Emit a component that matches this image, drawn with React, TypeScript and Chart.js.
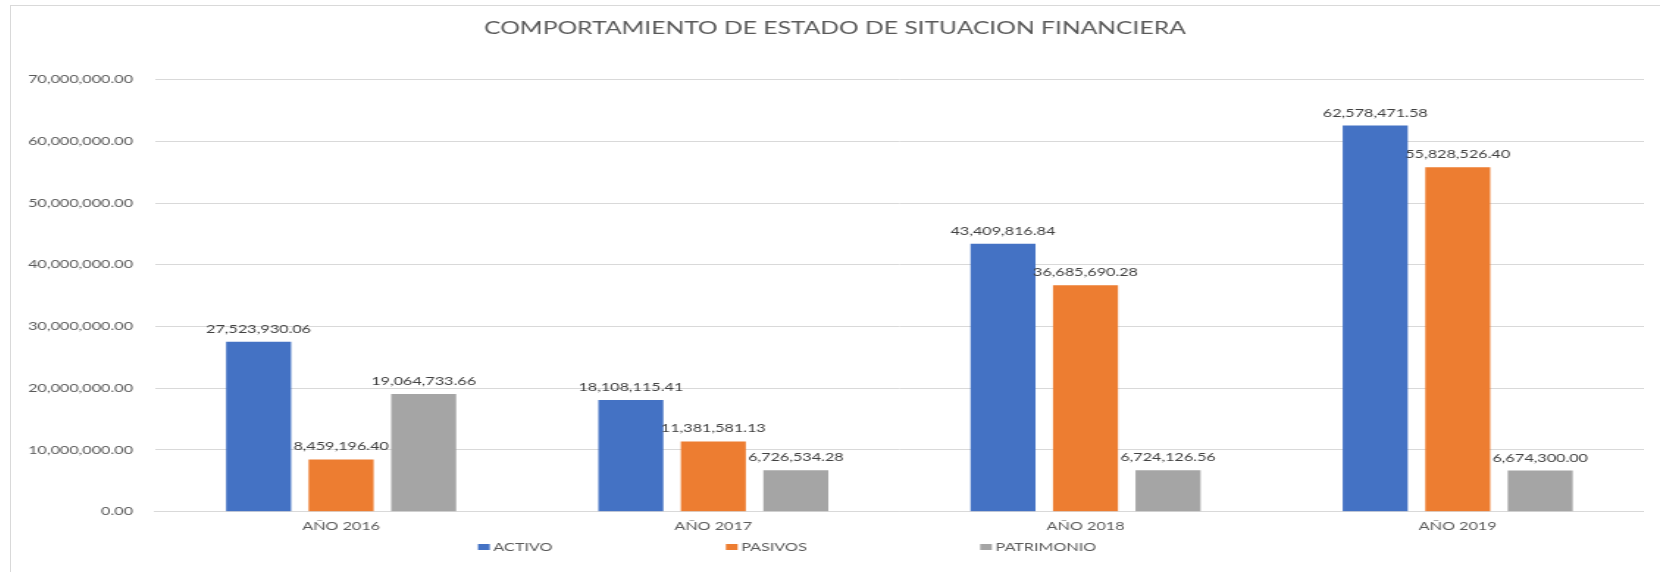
import React, { useEffect, useRef } from "react";
import { Chart, registerables } from "chart.js";

Chart.register(...registerables);

const chartTitle = "COMPORTAMIENTO DE ESTADO DE SITUACION FINANCIERA";
const categories = ["AÑO 2016", "AÑO 2017", "AÑO 2018", "AÑO 2019"];
const seriesNames = ["ACTIVO", "PASIVOS", "PATRIMONIO"];
const seriesColors = ["#4472C4", "#ED7D31", "#A5A5A5"];
const activo = [27523930.06, 18108115.41, 43409816.84, 62578471.58];
const pasivos = [8459196.4, 11381581.13, 36685690.28, 55828526.4];
const patrimonio = [19064733.66, 6726534.28, 6724126.56, 6674300.0];
const yTickValues = [0, 10000000, 20000000, 30000000, 40000000, 50000000, 60000000, 70000000];

const FONT = "Lato";
const STRETCH = 1.4694;
const CANVAS_LEFT = 26;
const CW = 1101;
const CH = 572;

const fmt = (v: number) =>
  v.toLocaleString("en-US", { minimumFractionDigits: 2, maximumFractionDigits: 2 });

const dataLabelPlugin = {
  id: "dataLabels",
  afterDatasetsDraw(chart: any) {
    const ctx = chart.ctx;
    ctx.save();
    ctx.font = `11px ${FONT}`;
    ctx.fillStyle = "#404040";
    ctx.textAlign = "center";
    ctx.textBaseline = "alphabetic";
    chart.data.datasets.forEach((ds: any, i: number) => {
      const meta = chart.getDatasetMeta(i);
      meta.data.forEach((bar: any, j: number) => {
        ctx.fillText(fmt(ds.data[j]), bar.x, bar.y - 9);
      });
    });
    ctx.restore();
  },
};

const excelLegendPlugin = {
  id: "excelLegend",
  afterDraw(chart: any, _args: any, opts: any) {
    const ctx = chart.ctx;
    ctx.save();
    ctx.font = `11px ${FONT}`;
    ctx.textBaseline = "middle";
    ctx.textAlign = "left";
    const y = opts.y;
    let x = opts.start;
    chart.data.datasets.forEach((ds: any) => {
      ctx.fillStyle = ds.backgroundColor;
      ctx.fillRect(x, y - 3, 8, 6);
      ctx.fillStyle = "#595959";
      const tx = x + 10.5;
      ctx.fillText(ds.label, tx, y + 0.5);
      x = tx + ctx.measureText(ds.label).width + opts.gap;
    });
    ctx.restore();
  },
};

export default function App() {
  const canvasRef = useRef<HTMLCanvasElement | null>(null);

  useEffect(() => {
    document.body.style.margin = "0";
    const canvas = canvasRef.current;
    if (!canvas) return;
    const values = [activo, pasivos, patrimonio];
    const chart = new Chart(canvas, {
      type: "bar",
      data: {
        labels: categories,
        datasets: seriesNames.map((name, i) => ({
          label: name,
          data: values[i],
          backgroundColor: seriesColors[i],
          borderWidth: 0,
          categoryPercentage: 0.665,
          barPercentage: 0.788,
        })),
      },
      options: {
        responsive: false,
        animation: false,
        devicePixelRatio: 1,
        layout: { padding: { left: 0, right: 0, top: 0, bottom: 30.3 } },
        plugins: {
          legend: { display: false },
          tooltip: { enabled: false },
          title: {
            display: true,
            text: chartTitle,
            color: "#595959",
            font: { family: FONT, size: 16.75, weight: "normal" },
            padding: { top: 18.9, bottom: 40.7 },
          },
          excelLegend: { start: 307.6, gap: 118, y: 547 },
        } as any,
        scales: {
          x: {
            grid: { display: false },
            border: { display: true, color: "#d9d9d9" },
            ticks: {
              color: "#595959",
              font: { family: FONT, size: 11 },
              padding: 0,
              maxRotation: 0,
            },
            afterFit: (axis: any) => {
              axis.height = 30;
            },
          },
          y: {
            min: 0,
            max: 70000000,
            grid: { color: "#d9d9d9", drawTicks: false, lineWidth: 1 },
            border: { display: false },
            ticks: {
              color: "#595959",
              font: { family: FONT, size: 11 },
              padding: 15,
              callback: (v: any) => fmt(Number(v)),
            },
            afterBuildTicks: (axis: any) => {
              axis.ticks = yTickValues.map((v) => ({ value: v }));
            },
            afterFit: (axis: any) => {
              axis.width = 87.8;
            },
          },
        },
      },
      plugins: [dataLabelPlugin, excelLegendPlugin],
    });
    return () => chart.destroy();
  }, []);

  return (
    <div
      style={{
        position: "fixed",
        left: 0,
        top: 0,
        width: 1660,
        height: 572,
        overflow: "hidden",
        background: "#ffffff",
      }}
    >
      <div
        style={{
          position: "absolute",
          left: 10,
          top: 5,
          width: 1700,
          height: 700,
          border: "1px solid #d9d9d9",
          boxSizing: "border-box",
        }}
      />
      <div
        style={{
          position: "absolute",
          left: CANVAS_LEFT,
          top: 0,
          width: CW,
          height: CH,
          transform: `scaleX(${STRETCH})`,
          transformOrigin: "0 0",
        }}
      >
        <canvas ref={canvasRef} width={CW} height={CH} style={{ display: "block" }} />
      </div>
    </div>
  );
}
